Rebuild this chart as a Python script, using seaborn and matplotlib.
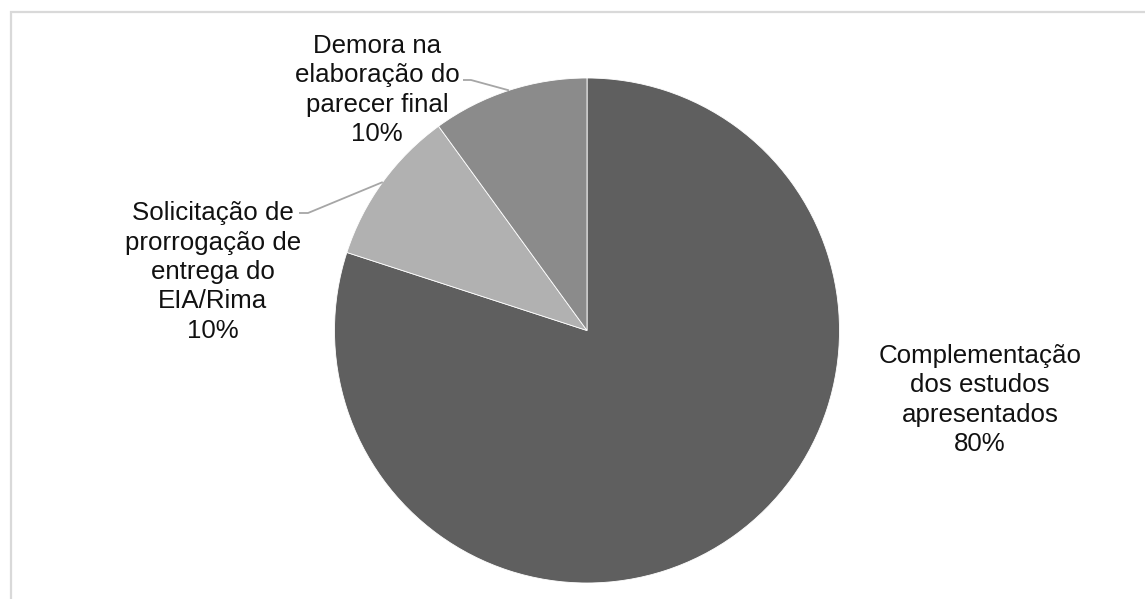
import numpy as np
import matplotlib
matplotlib.use("Agg")
import matplotlib.pyplot as plt
import seaborn as sns

# Motivos de atraso no licenciamento
categories = [
    "Complementação\ndos estudos\napresentados",
    "Solicitação de\nprorrogação de\nentrega do\nEIA/Rima",
    "Demora na\nelaboração do\nparecer final",
]
shares = [80, 10, 10]
colors = ["#5f5f5f", "#b1b1b1", "#8b8b8b"]

sns.set_theme(style="white")
plt.rcParams["font.family"] = ["Liberation Sans", "DejaVu Sans"]

W, H = 1145, 599
fig = plt.figure(figsize=(W / 100, H / 100), dpi=100)
fig.patch.set_facecolor("white")
ax = fig.add_axes([0, 0, 1, 1])

cx, cy, r = 587, H - 330.5, 252.5
wedges, _ = ax.pie(
    shares, colors=colors, startangle=90, counterclock=False,
    center=(cx, cy), radius=r, frame=True,
    wedgeprops=dict(edgecolor="white", linewidth=0.6),
)
ax.set_xlim(0, W)
ax.set_ylim(0, H)
ax.axis("off")

# text block centres (pixel coords from top-left)
label_pos = [(980, 400), (213, 272), (377, 90)]
# leader line start points next to the text (None = no leader)
leaders = [None, [(299, 213), (308, 213)], [(463, 80), (471, 80)]]

for w, name, val, (lx, ly), lead in zip(wedges, categories, shares, label_pos, leaders):
    ax.text(lx, H - ly, f"{name}\n{val}%", ha="center", va="center",
            fontsize=18.6, color="#111111", linespacing=1.28)
    if lead is not None:
        mid = np.deg2rad((w.theta1 + w.theta2) / 2)
        ex, ey = cx + r * np.cos(mid), cy + r * np.sin(mid)
        xs = [p[0] for p in lead] + [ex]
        ys = [H - p[1] for p in lead] + [ey]
        ax.plot(xs, ys, color="#a6a6a6", linewidth=1.3, solid_capstyle="butt")

# chart-area frame
ax.plot([10.5, 10.5, W], [0, H - 11.5, H - 11.5], color="#d9d9d9",
        linewidth=1.6, solid_joinstyle="miter")

fig.savefig("out.png", dpi=100, facecolor="white")
